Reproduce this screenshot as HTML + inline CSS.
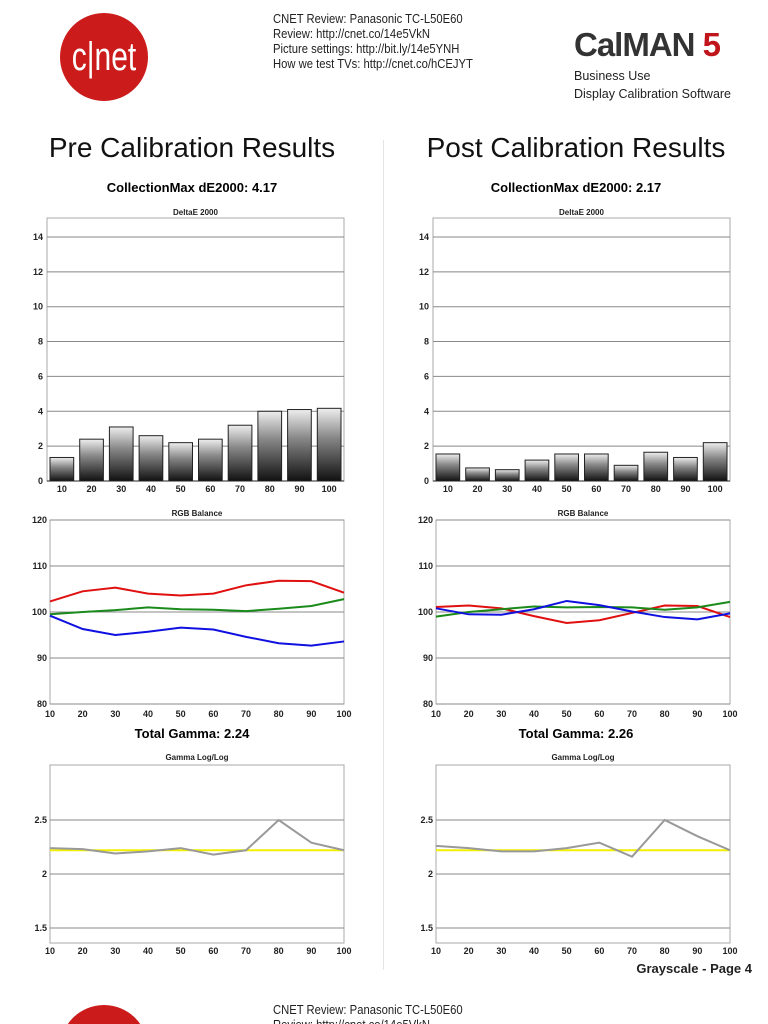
<!DOCTYPE html>
<html style="overflow:hidden;height:1024px"><head><meta charset="utf-8"><style>
body{margin:0;width:768px;height:1024px;overflow:hidden;background:#fff;position:relative;font-family:"Liberation Sans",sans-serif}
.a{position:absolute}
.hd{font-size:12.5px;line-height:15px;color:#222;transform:scaleX(.9);transform-origin:left top}
</style></head><body>
<div class="a" style="left:60px;top:13px;width:88px;height:88px;border-radius:50%;background:#cc1b1b"></div>
<div class="a" style="left:60px;top:33px;width:88px;text-align:center;color:#fff;font-size:40px;transform:scaleX(.75);line-height:48px">c|net</div>
<div class="a hd" style="left:273px;top:12px">CNET Review: Panasonic TC-L50E60<br>Review: http://cnet.co/14e5VkN<br>Picture settings: http://bit.ly/14e5YNH<br>How we test TVs: http://cnet.co/hCEJYT</div>
<div class="a" style="left:574px;top:26px;font-size:33px;font-weight:bold;color:#333;letter-spacing:-1px">CalMAN<span style="color:#c0161b"> 5</span></div>
<div class="a" style="left:574px;top:67px;font-size:12.5px;line-height:18px;color:#222">Business Use<br>Display Calibration Software</div>
<div class="a" style="left:383px;top:140px;width:1px;height:830px;background:#e4e4e4"></div>
<div class="a" style="left:0;top:132px;width:384px;text-align:center;font-size:28px;color:#111">Pre Calibration Results</div>
<div class="a" style="left:384px;top:132px;width:384px;text-align:center;font-size:28px;color:#111">Post Calibration Results</div>
<div class="a" style="left:0;top:180px;width:384px;text-align:center;font-size:13px;font-weight:bold">CollectionMax dE2000: 4.17</div>
<div class="a" style="left:384px;top:180px;width:384px;text-align:center;font-size:13px;font-weight:bold">CollectionMax dE2000: 2.17</div>
<div class="a" style="left:0;top:726px;width:384px;text-align:center;font-size:13px;font-weight:bold">Total Gamma: 2.24</div>
<div class="a" style="left:384px;top:726px;width:384px;text-align:center;font-size:13px;font-weight:bold">Total Gamma: 2.26</div>
<div class="a" style="right:16px;top:961px;font-size:13px;font-weight:bold;color:#222">Grayscale - Page 4</div>
<div class="a" style="left:0;top:1000px;width:768px;height:24px;overflow:hidden">
<div class="a" style="left:60px;top:5px;width:88px;height:88px;border-radius:50%;background:#cc1b1b"></div>
<div class="a hd" style="left:273px;top:3px">CNET Review: Panasonic TC-L50E60<br>Review: http://cnet.co/14e5VkN</div>
</div>
<svg class="a" style="left:0;top:0" width="768" height="1000" id="s"></svg>
<script>
var s=document.getElementById('s'),h='<defs><linearGradient id="g" x1="0" y1="1" x2="0" y2="0"><stop offset="0" stop-color="#111"/><stop offset=".6" stop-color="#888"/><stop offset="1" stop-color="#eee"/></linearGradient></defs>';
function t(x,y,v,a,sz,w){h+='<text x="'+x+'" y="'+y+'" font-size="'+(sz||9)+'" text-anchor="'+(a||'middle')+'" font-weight="'+(w||'bold')+'" fill="#222" font-family="Liberation Sans,sans-serif">'+v+'</text>';}
function de(x0,d){var x1=x0+297,y0=481,k=17.43;t((x0+x1)/2,215,'DeltaE 2000',0,8);
h+='<rect x="'+x0+'" y="218" width="297" height="263" fill="none" stroke="#aaa"/>';
for(var v=0;v<=14;v+=2){var y=y0-v*k;if(v)h+='<line x1="'+x0+'" x2="'+x1+'" y1="'+y+'" y2="'+y+'" stroke="#888"/>';t(x0-4,y+3,v,'end');}
var cw=29.7;for(var i=0;i<10;i++){var bx=x0+i*cw+3,bh=d[i]*k;h+='<rect x="'+bx+'" y="'+(y0-bh)+'" width="'+(cw-6)+'" height="'+bh+'" fill="url(#g)" stroke="#222"/>';t(bx+(cw-6)/2,492,(i+1)*10);}
h+='<line x1="'+x0+'" x2="'+x1+'" y1="481" y2="481" stroke="#222"/>';}
function ln(x0,d,c,f,w){var p=d.map(function(v,i){return (x0+i*32.67)+','+f(v)}).join(' ');h+='<polyline points="'+p+'" fill="none" stroke="'+c+'" stroke-width="'+(w||2)+'"/>';}
function xl(x0,y){for(var i=0;i<10;i++)t(x0+i*32.67,y,(i+1)*10);}
function rgb(x0,r,g,b){t(x0+147,516,'RGB Balance',0,8);var f=function(v){return 612-(v-100)*4.6};
h+='<rect x="'+x0+'" y="520" width="294" height="184" fill="none" stroke="#aaa"/>';
for(var v=80;v<=120;v+=10){var y=f(v);h+='<line x1="'+x0+'" x2="'+(x0+294)+'" y1="'+y+'" y2="'+y+'" stroke="#888"/>';t(x0-3,y+3,v,'end');}
ln(x0,r,'#e01010',f);ln(x0,g,'#1a8a1a',f);ln(x0,b,'#1010e0',f);xl(x0,717);}
function gm(x0,d){t(x0+147,760,'Gamma Log/Log',0,8);var f=function(v){return 874-(v-2)*108};
h+='<rect x="'+x0+'" y="765" width="294" height="178" fill="none" stroke="#aaa"/>';
[2.5,2,1.5].forEach(function(v){var y=f(v);h+='<line x1="'+x0+'" x2="'+(x0+294)+'" y1="'+y+'" y2="'+y+'" stroke="#888"/>';t(x0-3,y+3,v,'end');});
ln(x0,[2.22,2.22,2.22,2.22,2.22,2.22,2.22,2.22,2.22,2.22],'#f0f000',f);ln(x0,d,'#999',f);xl(x0,954);}
de(47,[1.35,2.4,3.1,2.6,2.2,2.4,3.2,4.0,4.1,4.17]);
de(433,[1.55,0.75,0.65,1.2,1.55,1.55,0.9,1.65,1.35,2.2]);
rgb(50,[102.3,104.5,105.3,104,103.6,104,105.8,106.8,106.7,104.2],[99.5,100,100.4,101,100.6,100.5,100.2,100.7,101.3,102.8],[99.2,96.3,95,95.7,96.6,96.2,94.6,93.2,92.7,93.6]);
rgb(436,[101.1,101.4,100.8,99.1,97.6,98.2,99.8,101.4,101.3,98.9],[99,100,100.6,101.2,101,101.1,101,100.5,101,102.2],[100.8,99.5,99.4,100.6,102.4,101.5,100.1,98.9,98.4,99.7]);
gm(50,[2.24,2.23,2.19,2.21,2.24,2.18,2.22,2.50,2.29,2.22]);
gm(436,[2.26,2.24,2.21,2.21,2.24,2.29,2.16,2.50,2.35,2.22]);
s.innerHTML=h;
</script>
</body></html>
